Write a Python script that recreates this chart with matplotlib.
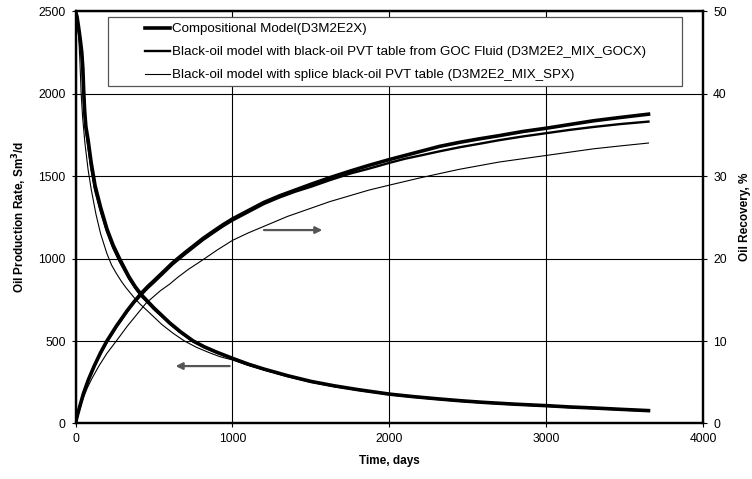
import matplotlib
matplotlib.use("Agg")
import matplotlib.pyplot as plt
from matplotlib.patches import Rectangle

plt.rcParams['font.family'] = ['Liberation Sans', 'DejaVu Sans']

# production rate, Sm3/d
t_rate = [0, 10, 20, 30, 40, 47, 52, 58, 66, 80, 100, 125, 160, 200, 240, 280, 340, 380, 420, 460, 500,
          550, 600, 670, 750, 820, 900, 1000, 1100, 1200, 1350, 1500, 1650, 1800, 2000, 2150, 2300, 2450,
          2600, 2800, 3000, 3150, 3300, 3470, 3650]
rate_comp = [2500, 2465, 2400, 2330, 2250, 2150, 2020, 1900, 1800, 1720, 1580, 1440, 1310, 1180, 1080, 1000,
             890, 830, 780, 740, 700, 655, 610, 555, 500, 465, 432, 395, 360, 330, 290, 255, 228, 205, 178,
             163, 150, 138, 128, 117, 108, 100, 94, 86, 78]
rate_goc = [2490, 2455, 2390, 2310, 2220, 2110, 1990, 1880, 1780, 1690, 1550, 1415, 1290, 1165, 1065, 985,
            880, 822, 772, 733, 693, 650, 605, 551, 497, 462, 430, 393, 358, 328, 288, 253, 226, 204, 177,
            162, 149, 137, 127, 116, 107, 99, 93, 85, 77]

t_rate_spx = [0, 10, 20, 28, 36, 45, 60, 80, 100, 130, 160, 200, 230, 260, 290, 320, 376, 410, 450, 500,
              550, 620, 694, 770, 850, 920, 1000, 1100, 1200, 1350, 1500, 1650, 1800, 2000, 2150, 2300,
              2450, 2600, 2800, 3000, 3150, 3300, 3470, 3650]
rate_spx = [2470, 2430, 2350, 2200, 2000, 1860, 1700, 1540, 1420, 1270, 1150, 1030, 960, 910, 865, 825, 760,
            725, 690, 645, 600, 548, 500, 462, 430, 405, 385, 352, 325, 286, 252, 225, 202, 176, 161, 148,
            136, 126, 115, 106, 98, 92, 84, 76]

# oil recovery, %
t_rec = [0, 12, 25, 50, 82, 120, 160, 200, 260, 330, 375, 420, 460, 500, 560, 620, 690, 750, 810, 870, 940,
         1000, 1100, 1200, 1300, 1400, 1500, 1620, 1750, 1870, 2000, 2100, 2200, 2320, 2450, 2570, 2700,
         2850, 3000, 3150, 3300, 3470, 3650]
rec_comp = [0, 1.0, 1.9, 3.6, 5.3, 7.0, 8.6, 10.0, 11.8, 13.7, 14.8, 15.8, 16.6, 17.3, 18.4, 19.5, 20.6,
            21.5, 22.4, 23.2, 24.1, 24.8, 25.8, 26.8, 27.6, 28.3, 29.0, 29.8, 30.6, 31.3, 32.0, 32.5, 33.0,
            33.6, 34.1, 34.5, 34.9, 35.4, 35.8, 36.25, 36.7, 37.1, 37.5]
rec_goc = [0, 1.0, 1.9, 3.6, 5.3, 7.0, 8.5, 9.9, 11.7, 13.6, 14.7, 15.6, 16.4, 17.1, 18.2, 19.3, 20.4,
           21.3, 22.2, 23.0, 23.9, 24.6, 25.6, 26.6, 27.4, 28.1, 28.7, 29.5, 30.3, 30.9, 31.6, 32.1, 32.5,
           33.0, 33.5, 33.9, 34.35, 34.8, 35.2, 35.6, 35.95, 36.3, 36.6]

t_rec_spx = [0, 12, 25, 50, 75, 103, 150, 200, 260, 330, 390, 450, 541, 600, 650, 720, 800, 900, 1000, 1100,
             1200, 1350, 1500, 1620, 1745, 1870, 2000, 2200, 2441, 2570, 2700, 2850, 3000, 3150, 3300, 3470,
             3650]
rec_spx = [0, 0.8, 1.7, 3.1, 4.3, 5.4, 7.0, 8.5, 10.0, 11.8, 13.2, 14.6, 16.1, 16.9, 17.7, 18.7, 19.7, 21.0,
           22.2, 23.1, 23.9, 25.1, 26.1, 26.9, 27.6, 28.3, 28.9, 29.8, 30.8, 31.25, 31.7, 32.1, 32.5, 32.9,
           33.3, 33.65, 34.0]

labels = ["Compositional Model(D3M2E2X)",
          "Black-oil model with black-oil PVT table from GOC Fluid (D3M2E2_MIX_GOCX)",
          "Black-oil model with splice black-oil PVT table (D3M2E2_MIX_SPX)"]
widths = [2.6, 1.7, 0.8]

fig = plt.figure(figsize=(7.52, 4.79), dpi=100)
ax = fig.add_axes([0.1004, 0.1159, 0.835, 0.861])
ax2 = ax.twinx()

ax.plot(t_rate, rate_comp, color="black", lw=widths[0])
ax.plot(t_rate, rate_goc, color="black", lw=widths[1])
ax.plot(t_rate_spx, rate_spx, color="black", lw=widths[2])

h1, = ax2.plot(t_rec, rec_comp, color="black", lw=widths[0], label=labels[0])
h2, = ax2.plot(t_rec, rec_goc, color="black", lw=widths[1], label=labels[1])
h3, = ax2.plot(t_rec_spx, rec_spx, color="black", lw=widths[2], label=labels[2])

ax.set_xlim(0, 4000)
ax.set_ylim(0, 2500)
ax2.set_ylim(0, 50)
ax.set_xticks([0, 1000, 2000, 3000, 4000])
ax.set_yticks([0, 500, 1000, 1500, 2000, 2500])
ax2.set_yticks([0, 10, 20, 30, 40, 50])

ax.grid(True, color="black", lw=0.8)
for a in (ax, ax2):
    for s in a.spines.values():
        s.set_linewidth(1.6)
    a.tick_params(labelsize=8.7, direction="out", length=3, width=0.8, pad=4)

ax.set_xlabel("Time, days", fontsize=8.5, fontweight="bold", labelpad=7)
ax.set_ylabel("Oil Production Rate, Sm$^\\mathbf{3}$/d", fontsize=8.5, fontweight="bold", labelpad=7)
ax2.set_ylabel("Oil Recovery, %", fontsize=8.5, fontweight="bold", labelpad=9)

# arrows telling which axis each family of curves belongs to
ax.annotate("", xy=(620, 348), xytext=(1000, 348),
            arrowprops=dict(arrowstyle="-|>", color="#555555", lw=1.6, mutation_scale=10))
ax2.annotate("", xy=(1590, 23.45), xytext=(1183, 23.45),
             arrowprops=dict(arrowstyle="-|>", color="#555555", lw=1.6, mutation_scale=10))

# legend box drawn separately so the entries can sit indented inside it
ax2.add_patch(Rectangle((0.0518, 0.8182), 0.914, 0.1673, transform=ax2.transAxes,
                        facecolor="white", edgecolor="#555555", lw=0.9, zorder=4))
leg = ax2.legend(handles=[h1, h2, h3], loc="upper left", bbox_to_anchor=(0.1107, 0.971),
                 fontsize=9.6, frameon=False, handlelength=1.9, handletextpad=0.1,
                 labelspacing=0.8, borderaxespad=0, borderpad=0)
leg.set_zorder(5)

plt.savefig("out.png", dpi=100)
